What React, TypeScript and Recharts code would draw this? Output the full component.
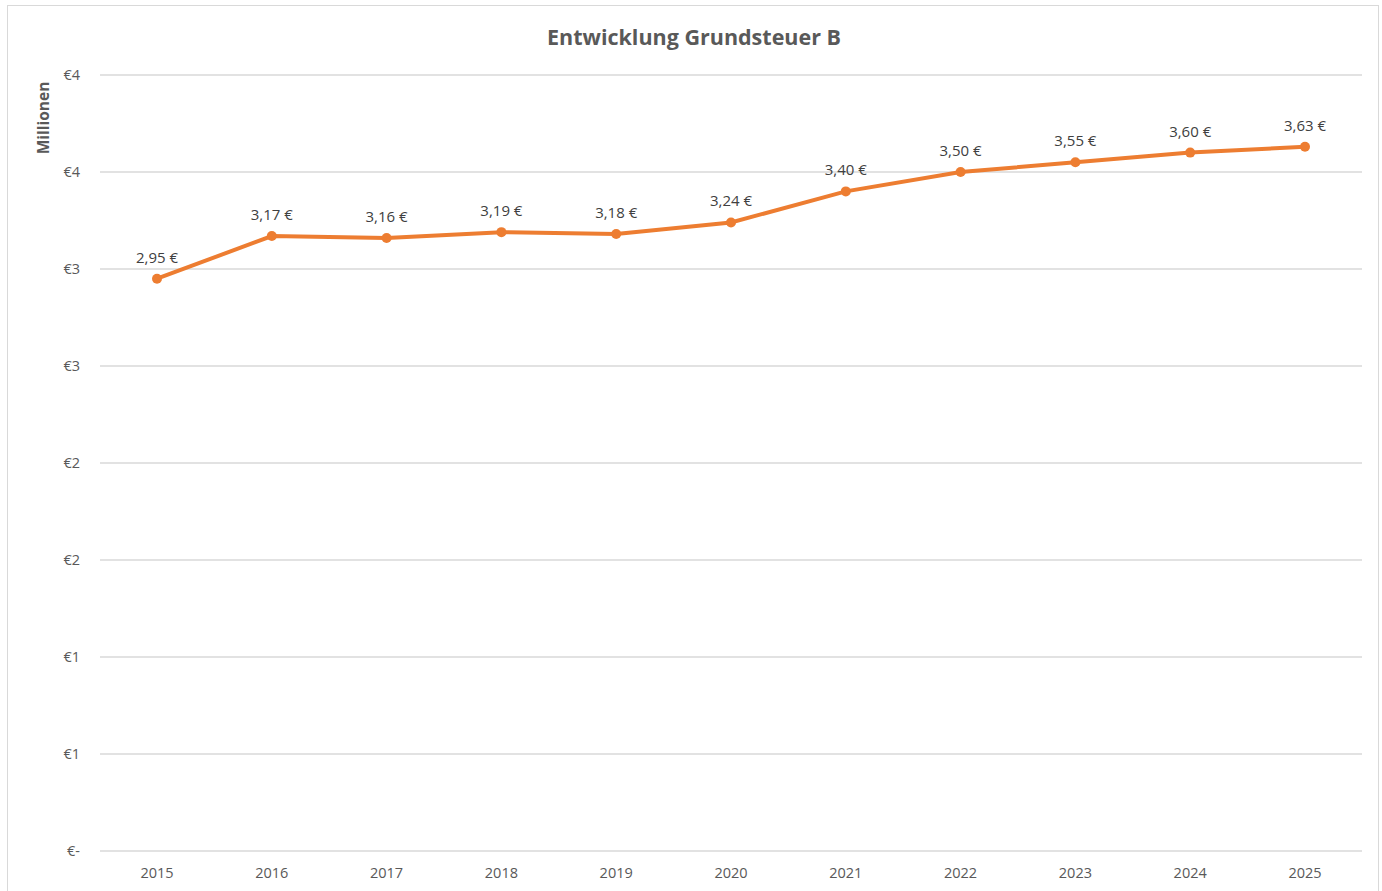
import { LineChart, Line, XAxis, YAxis, CartesianGrid, LabelList } from 'recharts';

const years = ['2015', '2016', '2017', '2018', '2019', '2020', '2021', '2022', '2023', '2024', '2025'];
const grundsteuerB = [2.95, 3.17, 3.16, 3.19, 3.18, 3.24, 3.4, 3.5, 3.55, 3.6, 3.63];
const yTicks = [0, 0.5, 1, 1.5, 2, 2.5, 3, 3.5, 4];

const chartData = years.map((y, i) => ({ year: y, value: grundsteuerB[i] }));

const FONT = '"Open Sans", "Noto Sans", sans-serif';
const ORANGE = '#ED7D31';

function formatTick(v: number): string {
  if (v === 0) return '€-';
  return `€${Math.round(v)}`;
}

function formatLabel(v: unknown): string {
  return `${Number(v).toFixed(2).replace('.', ',')} €`;
}

export default function App() {
  return (
    <div style={{ position: 'absolute', left: 0, top: 0, width: 1382, height: 891, background: '#fff', fontFamily: FONT }}>
      <div
        style={{
          position: 'absolute',
          left: 7,
          top: 5,
          width: 1372,
          height: 890,
          border: '1px solid #d9d9d9',
          boxSizing: 'border-box',
        }}
      />
      <div
        style={{
          position: 'absolute',
          left: 0,
          width: 1388,
          top: 22,
          textAlign: 'center',
          fontSize: 21.5,
          fontWeight: 700,
          color: '#595959',
        }}
      >
        Entwicklung Grundsteuer B
      </div>
      <div
        style={{
          position: 'absolute',
          left: 43,
          top: 118,
          transform: 'translate(-50%, -50%) rotate(-90deg)',
          fontSize: 15.5,
          fontWeight: 700,
          color: '#595959',
          whiteSpace: 'nowrap',
        }}
      >
        Millionen
      </div>
      <div style={{ position: 'absolute', left: 0, top: 0 }}>
        <LineChart width={1382} height={891} data={chartData} margin={{ top: 75, right: 20, bottom: 10, left: 40 }}>
          <CartesianGrid vertical={false} stroke="#d9d9d9" strokeWidth={1.5} />
          <XAxis
            dataKey="year"
            axisLine={false}
            tickLine={false}
            height={30}
            padding={{ left: 57, right: 57 }}
            tick={{ fontSize: 14.5, fill: '#595959', fontFamily: FONT }}
            tickMargin={11}
          />
          <YAxis
            domain={[0, 4]}
            ticks={yTicks}
            width={60}
            axisLine={false}
            tickLine={false}
            tickFormatter={formatTick}
            tick={{ fontSize: 14.5, fill: '#595959', fontFamily: FONT }}
            tickMargin={14}
          />
          <Line
            type="linear"
            dataKey="value"
            stroke={ORANGE}
            strokeWidth={4}
            dot={{ r: 5, fill: ORANGE, stroke: ORANGE, strokeWidth: 0 }}
            isAnimationActive={false}
          >
            <LabelList
              dataKey="value"
              position="top"
              offset={16}
              formatter={formatLabel}
              style={{ fontSize: 15, fill: '#404040', fontFamily: FONT }}
            />
          </Line>
        </LineChart>
      </div>
    </div>
  );
}
